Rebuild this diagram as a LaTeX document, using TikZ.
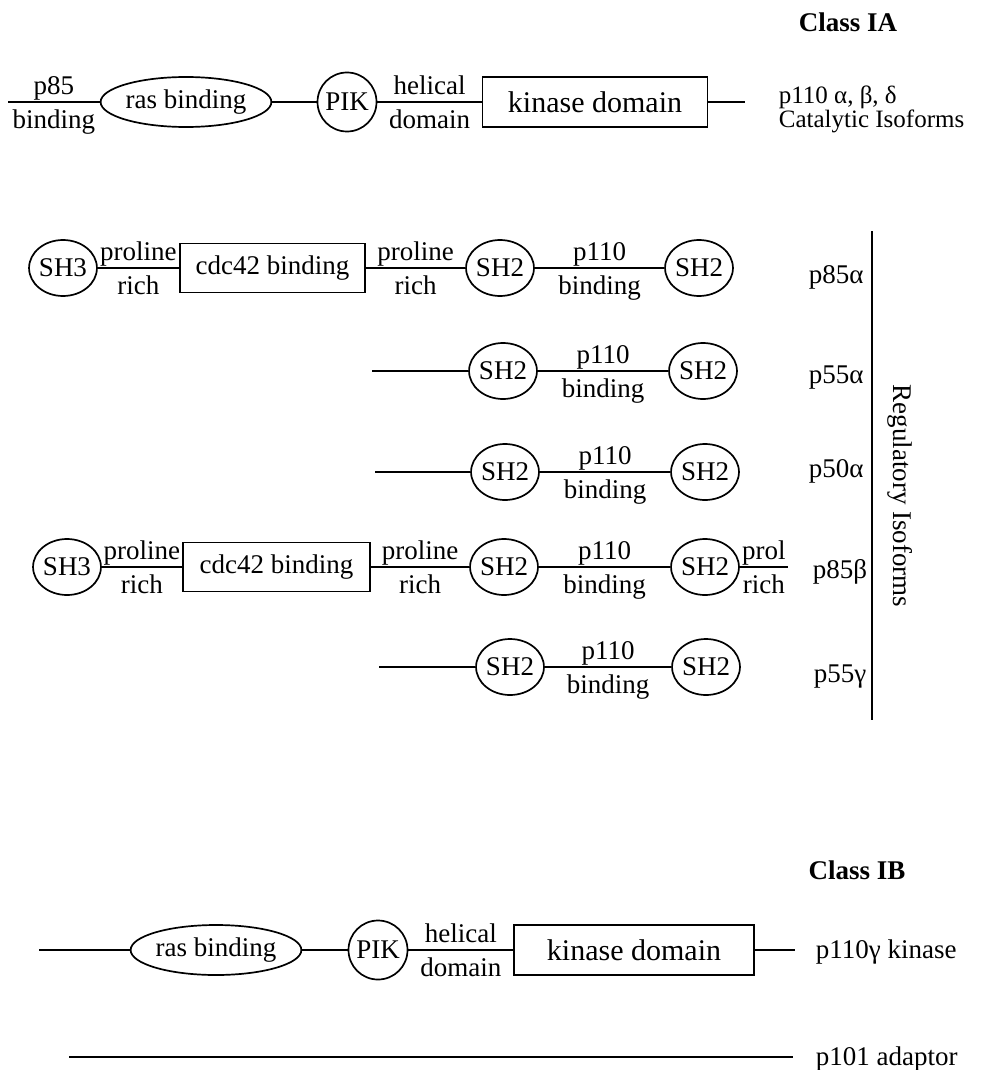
\documentclass[tikz,border=0pt]{standalone}
\usepackage{fontspec}
\setmainfont{Liberation Serif}
\usetikzlibrary{shapes.geometric}
\usetikzlibrary{positioning}

\begin{document}
\begin{tikzpicture}[x=1pt, y=-1pt, line width=1.7pt,
		every node/.style={inner sep=0pt, font=\fontsize{27}{30}\selectfont},
		dombox/.style={draw, rectangle, minimum height=50},
		kinbox/.style={dombox, font=\fontsize{30}{32}\selectfont},
		rasoval/.style={draw, ellipse, minimum width=154, minimum height=50},
		pikdom/.style={draw, circle, minimum size=59},
		shdom/.style={draw, ellipse, minimum width=66, minimum height=56},
		lbl/.style={text height=18pt, text depth=6pt},
		up/.style={lbl, above=1pt},
		down/.style={lbl, below=8pt},
		iso/.style={anchor=base west},
		tagline/.style={anchor=base west, font=\fontsize{25}{28}\selectfont}]
	\useasboundingbox (0,0) rectangle (1007,1070);

	% class IA
	\node[font=\fontsize{27}{30}\selectfont\bfseries] (classa) at (848,22) {Class IA};
	\coordinate (p85end) at (8,102);
	\node[rasoval] (rasa) at (186,102) {ras binding};
	\node[pikdom] (pika) at (347,102) {PIK};
	\node[kinbox, minimum width=225] (kina) at (595,102) {kinase domain};
	\coordinate (kinaend) at (745,102);
	\node[tagline] (cat1) at (778,104) {p110 α, β, δ};
	\node[tagline] (cat2) at (778,128) {Catalytic Isoforms};
	\draw (p85end) -- node[up] (t1) {p85} node[down] (t2) {binding} (rasa);
	\draw (rasa) -- (pika);
	\draw (pika) -- node[up] (t3) {helical} node[down] (t4) {domain} (kina);
	\draw (kina) -- (kinaend);

	% p85 alpha
	\node[shdom, minimum width=63] (a0) at (63,268) {SH3};
	\node[dombox, minimum width=185, minimum height=49] (acdc) at (272.5,268) {cdc42 binding};
	\node[shdom] (a1) at (500,268) {SH2};
	\node[shdom] (a2) at (699,268) {SH2};
	\node[iso] (na) at (808,283) {p85α};
	\draw (a0) -- node[up] {proline} node[down] {rich} (acdc);
	\draw (acdc) -- node[up] {proline} node[down] {rich} (a1);
	\draw (a1) -- node[up] {p110} node[down] {binding} (a2);

	% p85 beta
	\node[shdom, minimum width=65] (d0) at (67,567) {SH3};
	\node[dombox, minimum width=187, minimum height=49] (dcdc) at (276.5,567) {cdc42 binding};
	\node[shdom] (d1) at (504,567) {SH2};
	\node[shdom] (d2) at (705,567) {SH2};
	\coordinate (dend) at (788,567);
	\node[iso] (nd) at (812,578) {p85β};
	\draw (d0) -- node[up] {proline} node[down] {rich} (dcdc);
	\draw (dcdc) -- node[up] {proline} node[down] {rich} (d1);
	\draw (d1) -- node[up] {p110} node[down] {binding} (d2);
	\draw (d2) -- node[up] {prol} node[down] {rich} (dend);

	\foreach \r/\y/\xs/\xa/\xb/\xn/\nm/\b in {b/371/372/503/703/808/p55α/383, c/472/375/505/705/808/p50α/477, e/667/379/510/706/813/p55γ/682}
	{
		\coordinate (s\r) at (\xs,\y);
		\node[shdom] (\r1) at (\xa,\y) {SH2};
		\node[shdom] (\r2) at (\xb,\y) {SH2};
		\node[iso] (n\r) at (\xn,\b) {\nm};
		\draw (s\r) -- (\r1);
		\draw (\r1) -- node[up] {p110} node[down] {binding} (\r2);
	}

	\coordinate (regtop) at (872,231);
	\coordinate (regbot) at (872,720);
	\draw (regtop) -- (regbot);
	\node[rotate=-90] (reg) at (900,496) {Regulatory Isoforms};

	% class IB
	\node[font=\fontsize{27}{30}\selectfont\bfseries] (classb) at (857,870) {Class IB};
	\coordinate (gstart) at (39,950);
	\node[rasoval, minimum width=155] (rasg) at (216,950) {ras binding};
	\node[pikdom] (pikg) at (378,950) {PIK};
	\node[kinbox, minimum width=240] (king) at (634,950) {kinase domain};
	\coordinate (gend) at (795,950);
	\node[iso] (ng) at (815,958) {p110γ kinase};
	\draw (gstart) -- (rasg);
	\draw (rasg) -- (pikg);
	\draw (pikg) -- node[up] {helical} node[down] {domain} (king);
	\draw (king) -- (gend);

	\coordinate (adstart) at (69,1057);
	\coordinate (adend) at (793,1057);
	\node[iso] (nad) at (815,1065) {p101 adaptor};
	\draw (adstart) -- (adend);
\end{tikzpicture}
\end{document}
